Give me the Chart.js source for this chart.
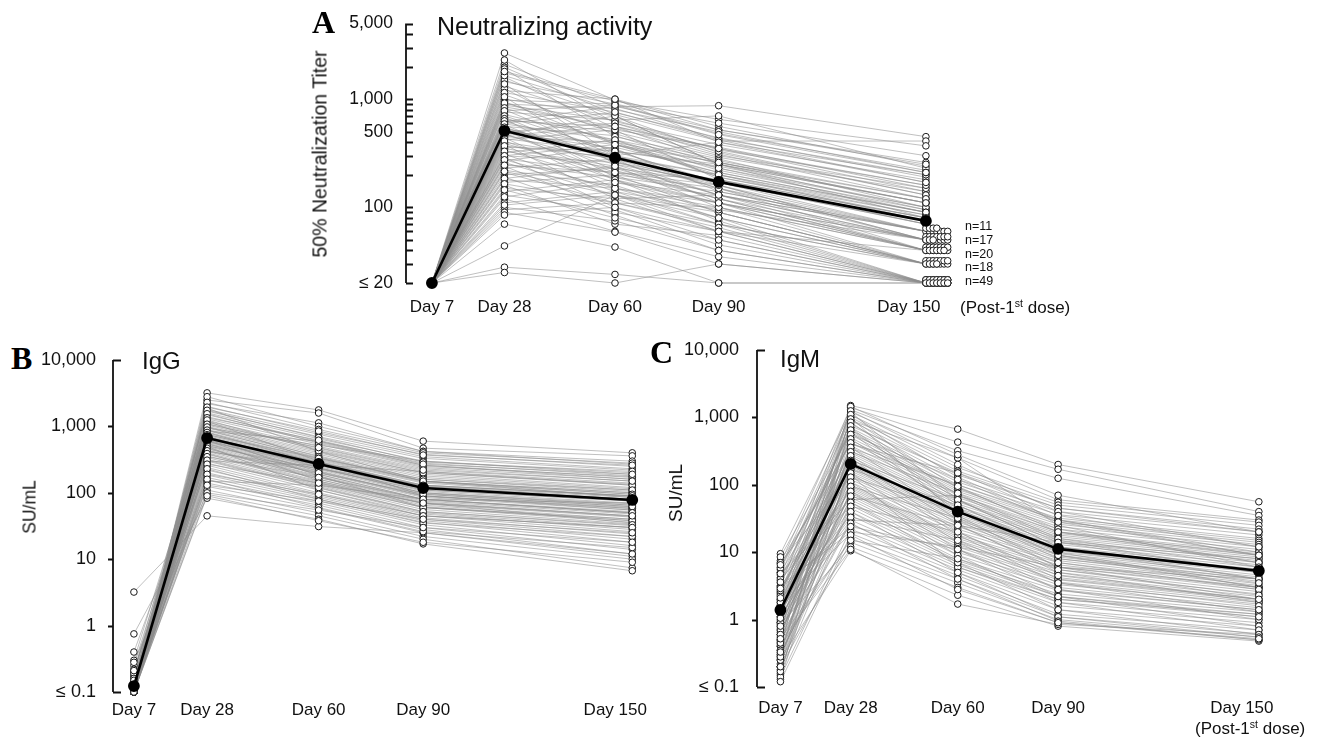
<!DOCTYPE html>
<html>
<head>
<meta charset="utf-8">
<script src="https://cdn.jsdelivr.net/npm/chart.js@4.4.1/dist/chart.umd.min.js"></script>
<style>
  body { margin: 0; background: #fff; }
  #wrap { position: relative; width: 1319px; height: 742px; overflow: hidden; }
  canvas { position: absolute; }
  .txt { position: absolute; font-family: 'Liberation Sans', Arial, sans-serif; color: #111; line-height: 1; white-space: nowrap; }
  .letter { position: absolute; font-family: 'Liberation Serif', 'Times New Roman', serif; font-weight: bold; font-size: 32px; line-height: 1; color: #000; }
  .ytitle { position: absolute; font-family: 'Liberation Sans', Arial, sans-serif; color: #111; white-space: nowrap; transform: translate(-50%, -50%) rotate(-90deg); }
  sup { font-size: 0.62em; vertical-align: 0.55em; line-height: 0; }
</style>
</head>
<body>
<div id="wrap">
  <canvas id="chartA" width="660" height="330" style="left:330px;top:0px"></canvas>
  <canvas id="chartB" width="650" height="400" style="left:40px;top:330px"></canvas>
  <canvas id="chartC" width="649" height="410" style="left:670px;top:320px"></canvas>

  <div class="letter" style="left:312px;top:6px">A</div>
  <div class="letter" style="left:11px;top:342px">B</div>
  <div class="letter" style="left:650px;top:336px">C</div>

  <div class="txt" style="left:437px;top:14px;font-size:25px">Neutralizing activity</div>
  <div class="txt" style="left:142px;top:349px;font-size:24px">IgG</div>
  <div class="txt" style="left:780px;top:347px;font-size:24px">IgM</div>

  <div class="ytitle" style="left:320px;top:154px;font-size:19.5px">50% Neutralization Titer</div>
  <div class="ytitle" style="left:30px;top:507px;font-size:17.5px">SU/mL</div>
  <div class="ytitle" style="left:676px;top:493px;font-size:19px">SU/mL</div>

  <div class="txt" style="left:960px;top:299px;font-size:17px">(Post-1<sup>st</sup> dose)</div>
  <div class="txt" style="left:1195px;top:720px;font-size:17px">(Post-1<sup>st</sup> dose)</div>

  <div class="txt" id="nLabels" style="left:965px;top:220px;font-size:12.5px;line-height:13.75px"></div>
</div>

<script>
    // ==========================================
    // DADOS
    // ==========================================
    const days = [7, 28, 60, 90, 150];
    const dayLabels = ['Day 7', 'Day 28', 'Day 60', 'Day 90', 'Day 150\u2003\u2003'];

    // Painel A - titulo de neutralizacao (Day 7 = ≤20 para todos)
    const neutDay7 = 20;
    const neutSubjects = [ // [Day 28, Day 60, Day 90, Day 150]
        [2670, 980, 520, 260], [2100, 850, 870, 450], [1970, 720, 410, 410], [1750, 960, 650, 370],
        [1600, 540, 300, 150], [1450, 900, 480, 220], [1320, 620, 380, 180], [1200, 1000, 560, 240],
        [1100, 480, 250, 110], [1000, 700, 320, 130], [950, 380, 210, 90], [900, 820, 430, 200],
        [850, 560, 260, 120], [800, 300, 150, 60], [760, 640, 340, 160], [720, 420, 220, 95],
        [680, 260, 180, 70], [650, 500, 290, 140], [620, 340, 160, 50], [600, 750, 440, 190],
        [580, 220, 120, 40], [560, 460, 230, 100], [540, 300, 200, 85], [520, 180, 90, 30],
        [500, 600, 310, 120], [490, 350, 140, 60], [470, 250, 170, 75], [450, 400, 260, 110],
        [440, 150, 80, 20], [420, 520, 180, 80], [400, 280, 110, 50], [390, 200, 150, 40],
        [380, 120, 60, 20], [360, 330, 240, 100], [350, 240, 100, 30], [340, 170, 130, 60],
        [320, 420, 190, 80], [310, 140, 70, 20], [300, 260, 160, 50], [290, 100, 50, 20],
        [280, 210, 120, 40], [270, 360, 210, 90], [260, 130, 90, 30], [250, 190, 140, 60],
        [240, 95, 45, 20], [230, 280, 150, 50], [220, 160, 80, 30], [210, 110, 100, 40],
        [200, 230, 170, 70], [190, 85, 40, 20], [180, 150, 110, 50], [170, 200, 90, 30],
        [160, 70, 55, 20], [150, 120, 130, 60], [140, 180, 75, 20], [130, 90, 60, 40],
        [120, 60, 35, 20], [110, 140, 95, 50], [100, 75, 40, 20], [95, 110, 70, 30],
        [90, 59, 30, 20], [70, 43, 20, 20], [44, 130, 60, 30], [28, 24, 20, 20],
        [25, 20, 30, 20], [1500, 700, 250, 95], [1250, 380, 200, 75], [980, 900, 600, 300],
        [880, 640, 700, 230], [620, 860, 520, 250], [530, 300, 400, 200], [470, 700, 250, 80],
        [2300, 600, 350, 140], [1900, 450, 280, 100], [1650, 800, 500, 210], [1380, 300, 170, 60],
        [1150, 760, 420, 170], [1050, 250, 130, 50], [920, 520, 360, 150], [830, 400, 190, 85],
        [780, 880, 470, 210], [700, 330, 250, 110], [660, 190, 110, 40], [630, 560, 330, 130],
        [590, 420, 270, 120], [550, 270, 130, 40], [510, 380, 230, 90], [480, 210, 160, 60],
        [460, 560, 350, 160], [430, 330, 170, 70], [410, 180, 110, 30], [370, 290, 200, 90],
        [330, 230, 120, 50], [300, 380, 260, 110], [275, 150, 100, 40], [245, 210, 180, 80],
        [215, 130, 70, 30], [185, 240, 130, 50], [165, 110, 65, 20], [145, 80, 50, 20],
        [125, 170, 110, 40], [105, 130, 80, 30], [85, 100, 60, 20], [1800, 1000, 400, 170]
    ];
    const neutGmt = [20, 510, 288, 172, 75];
    const neutTicks = [20, 100, 500, 1000, 5000];
    const neutTickLabels = ['≤ 20', '100', '500', '1,000', '5,000'];
    const neutMinorTicks = [30, 40, 50, 60, 70, 80, 90, 200, 300, 400, 600, 700, 800, 900, 2000, 3000, 4000];
    const lodGroupValues = [60, 50, 40, 30, 20];
    const lodGroupCounts = [11, 17, 20, 18, 49];

    // Painel B - IgG  [Day 7, Day 28, Day 60, Day 90, Day 150]
    const iggSubjects = [
        [0.1, 3200, 1770, 600, 400], [0.12, 2500, 1590, 470, 360], [0.1, 2200, 1130, 420, 270],
        [0.15, 2000, 800, 380, 250], [0.1, 1800, 760, 350, 230], [0.2, 1700, 700, 330, 220],
        [0.1, 1600, 650, 300, 200], [0.13, 1500, 600, 280, 180], [0.1, 1400, 580, 260, 170],
        [0.18, 1300, 540, 240, 160], [0.1, 1200, 500, 230, 150], [0.11, 1150, 470, 210, 140],
        [0.3, 1100, 450, 200, 135], [0.1, 1050, 420, 190, 120], [0.14, 1000, 400, 180, 115],
        [0.1, 950, 380, 170, 110], [0.12, 900, 360, 160, 105], [0.1, 860, 340, 150, 100],
        [0.25, 820, 320, 145, 95], [0.1, 790, 310, 140, 90], [0.1, 760, 300, 130, 88],
        [0.16, 730, 290, 125, 85], [0.1, 700, 280, 120, 80], [0.12, 680, 270, 115, 78],
        [0.1, 660, 260, 110, 75], [0.1, 640, 250, 105, 70], [0.2, 620, 240, 100, 68],
        [0.1, 600, 235, 98, 65], [0.13, 580, 225, 95, 62], [0.1, 560, 215, 90, 60],
        [0.1, 540, 205, 88, 58], [0.15, 520, 200, 85, 55], [0.1, 500, 190, 80, 52],
        [0.11, 480, 180, 78, 50], [0.1, 460, 175, 75, 48], [0.4, 440, 170, 72, 45],
        [0.1, 420, 160, 68, 43], [0.12, 400, 150, 65, 40], [0.1, 380, 145, 62, 38],
        [0.1, 360, 140, 60, 36], [0.17, 340, 130, 56, 34], [0.1, 320, 125, 52, 32],
        [0.13, 300, 118, 50, 30], [0.1, 280, 110, 48, 28], [0.1, 260, 100, 45, 26],
        [0.22, 240, 95, 42, 24], [0.1, 220, 90, 40, 22], [0.12, 200, 85, 38, 20],
        [0.1, 185, 80, 36, 18], [0.1, 170, 75, 33, 16], [0.15, 155, 70, 30, 14],
        [0.1, 140, 65, 28, 12], [0.11, 125, 58, 25, 11], [0.1, 110, 50, 22, 10],
        [0.1, 95, 45, 20, 7.4], [0.75, 83, 40, 17, 6.7], [3.2, 45, 31, 25, 12],
        [0.1, 1900, 420, 150, 85], [0.1, 850, 600, 260, 160], [0.14, 700, 180, 60, 40],
        [0.1, 1200, 300, 90, 55], [0.12, 300, 260, 210, 130], [0.1, 500, 110, 45, 30],
        [0.19, 950, 520, 300, 190], [0.1, 420, 230, 130, 90], [0.1, 150, 130, 80, 70],
        [0.13, 620, 150, 70, 35],
        [0.1, 2800, 1000, 420, 300], [0.11, 2300, 900, 400, 280], [0.1, 1950, 850, 370, 260],
        [0.14, 1750, 680, 290, 210], [0.1, 1550, 560, 250, 175], [0.12, 1350, 620, 270, 190],
        [0.1, 1250, 430, 200, 130], [0.16, 1080, 480, 220, 150], [0.1, 980, 350, 150, 100],
        [0.1, 880, 330, 160, 110], [0.13, 810, 280, 125, 80], [0.1, 750, 330, 150, 95],
        [0.12, 710, 240, 100, 65], [0.1, 670, 290, 130, 90], [0.1, 630, 210, 90, 58],
        [0.21, 590, 260, 120, 80], [0.1, 550, 190, 80, 50], [0.1, 510, 230, 110, 75],
        [0.12, 470, 160, 70, 44], [0.1, 430, 200, 95, 62], [0.1, 390, 135, 60, 38],
        [0.15, 350, 170, 80, 50], [0.1, 310, 120, 52, 33], [0.1, 270, 140, 70, 45],
        [0.13, 230, 80, 35, 22], [0.1, 190, 95, 45, 30], [0.1, 160, 60, 26, 15],
        [0.12, 130, 75, 40, 25], [0.28, 100, 55, 30, 18], [0.1, 90, 38, 18, 9]
    ];
    const iggGmt = [0.123, 668, 272, 118, 78];

    // Painel C - IgM  [Day 7, Day 28, Day 60, Day 90, Day 150]
    const igmSubjects = [
        [0.4, 1500, 670, 200, 56], [6.8, 1400, 430, 170, 40], [1.2, 1300, 320, 125, 35],
        [9.5, 1200, 250, 60, 30], [0.2, 1100, 180, 55, 28], [4.6, 1000, 160, 50, 25],
        [2.0, 900, 140, 45, 22], [0.15, 800, 120, 40, 20], [3.5, 700, 110, 36, 18],
        [0.7, 650, 100, 32, 16], [5.5, 600, 90, 30, 15], [1.8, 550, 85, 28, 14],
        [0.3, 500, 80, 26, 13], [2.4, 460, 75, 24, 12], [6.0, 420, 70, 22, 11],
        [0.9, 380, 65, 20, 10], [1.4, 350, 60, 19, 9.5], [0.5, 320, 56, 18, 9],
        [7.5, 300, 52, 17, 8.5], [1.1, 280, 48, 16, 8], [0.25, 260, 45, 15, 7.5],
        [2.6, 240, 42, 14, 7], [0.13, 220, 40, 13, 6.5], [1.6, 200, 38, 12, 6],
        [4.2, 190, 36, 11, 5.6], [0.35, 180, 34, 10.5, 5.2], [1.0, 170, 32, 10, 5],
        [0.6, 160, 30, 9.5, 4.6], [2.2, 150, 28, 9, 4.3], [3.0, 140, 26, 8.5, 4],
        [0.45, 130, 24, 8, 3.7], [1.3, 120, 22, 7.5, 3.4], [0.18, 110, 20, 7, 3.2],
        [2.8, 100, 18, 6.5, 3], [0.8, 95, 17, 6, 2.8], [1.5, 90, 16, 5.5, 2.6],
        [0.22, 85, 15, 5, 2.4], [3.8, 80, 14, 4.6, 2.2], [0.65, 75, 13, 4.2, 2],
        [1.9, 70, 12, 3.9, 1.9], [0.28, 65, 11, 3.6, 1.8], [5.0, 60, 10, 3.3, 1.7],
        [0.95, 55, 9, 3, 1.5], [0.16, 50, 8, 2.7, 1.4], [1.35, 45, 7.5, 2.4, 1.3],
        [0.55, 40, 7, 2.2, 1.2], [2.0, 35, 6.5, 2, 1.1], [0.32, 30, 6, 1.8, 1],
        [0.75, 26, 5.5, 1.6, 0.9], [0.14, 22, 5, 1.4, 0.8], [1.7, 19, 4.5, 1.2, 0.7],
        [0.4, 16, 4, 1.1, 0.62], [0.2, 14, 3.5, 1, 0.55], [0.85, 12, 3, 0.9, 0.5],
        [0.26, 10.5, 2.3, 0.8, 0.48], [0.48, 11, 1.7, 0.85, 0.6], [8.5, 600, 40, 8, 4],
        [0.42, 1000, 35, 6, 3], [2.5, 1200, 60, 12, 5], [0.6, 400, 150, 45, 20],
        [1.2, 30, 25, 14, 8], [3.2, 20, 12, 6, 4], [0.3, 700, 50, 10, 3],
        [5.0, 250, 20, 4, 2], [0.2, 350, 100, 30, 10], [7.0, 140, 6, 2, 1.2],
        [1.6, 900, 250, 25, 6], [0.9, 60, 70, 20, 9],
        [3.1, 1450, 280, 70, 20], [0.5, 1250, 200, 40, 12], [5.8, 1100, 130, 30, 9],
        [1.1, 950, 90, 22, 7], [0.25, 850, 70, 15, 5], [2.3, 750, 150, 35, 12],
        [4.0, 650, 60, 12, 4], [0.7, 560, 120, 28, 9], [1.5, 480, 45, 9, 3],
        [6.5, 420, 95, 20, 7], [0.35, 360, 30, 6, 2], [2.7, 310, 75, 16, 6],
        [0.9, 270, 26, 5, 1.8], [1.8, 230, 60, 14, 5], [0.17, 200, 18, 3.5, 1.3],
        [3.6, 170, 50, 11, 4], [0.6, 150, 14, 2.8, 1], [1.25, 130, 40, 9, 3.5],
        [0.28, 110, 11, 2.2, 0.8], [2.1, 95, 32, 7, 2.8], [0.45, 80, 9, 1.8, 0.7],
        [1.05, 68, 25, 5.5, 2.3], [0.2, 55, 7, 1.4, 0.6], [4.8, 48, 20, 4.5, 2],
        [0.8, 40, 5, 1.1, 0.55], [1.4, 33, 15, 3.5, 1.6], [0.33, 27, 4, 0.95, 0.5],
        [2.9, 24, 11, 2.8, 1.4], [0.12, 18, 2.8, 0.9, 0.52], [0.52, 15, 8, 2.2, 1.1]
    ];
    const igmGmt = [1.39, 204, 40, 11.2, 5.3];

    const suTicks = [0.1, 1, 10, 100, 1000, 10000];
    const suTickLabels = ['≤ 0.1', '1', '10', '100', '1,000', '10,000'];

    // ==========================================

    const FONT = "'Liberation Sans', Arial, sans-serif";

    // eixo Y em forma de colchete (desenhado com a escala do Chart.js)
    const bracketAxis = {
        id: 'bracketAxis',
        beforeDatasetsDraw(chart, args, opts) {
            const { ctx, chartArea } = chart;
            const y = chart.scales.y;
            const x0 = chartArea.left;
            ctx.save();
            ctx.strokeStyle = '#111';
            ctx.lineWidth = 1.8;
            ctx.beginPath();
            ctx.moveTo(x0, y.getPixelForValue(y.max));
            ctx.lineTo(x0, y.getPixelForValue(y.min));
            if (opts.inward) {
                opts.major.concat(opts.minor).forEach(v => {
                    const py = Math.round(y.getPixelForValue(v)) + 0.5;
                    ctx.moveTo(x0, py); ctx.lineTo(x0 + 7, py);
                });
            } else {
                opts.major.forEach((v, i) => {
                    const py = Math.round(y.getPixelForValue(v)) + 0.5;
                    const end = i === 0 || i === opts.major.length - 1;
                    ctx.moveTo(x0, py); ctx.lineTo(end ? x0 + 8 : x0 - 5, py);
                });
            }
            ctx.stroke();
            ctx.restore();
        }
    };

    function buildPanel(canvasId, p) {
        const datasets = [];

        // linhas individuais (cinza)
        p.subjects.forEach(row => {
            datasets.push({
                data: row.map((v, i) => ({ x: days[i], y: v })),
                borderColor: 'rgba(140,140,140,0.55)',
                borderWidth: 1,
                pointRadius: 0,
                order: 3,
                clip: false
            });
        });

        // circulos abertos
        const circles = [];
        p.subjects.forEach(row => row.forEach((v, i) => {
            if (p.skipCircle && p.skipCircle(i, v)) return;
            circles.push({ x: days[i], y: v });
        }));
        if (p.extraCircles) circles.push(...p.extraCircles);
        datasets.push({
            data: circles,
            showLine: false,
            pointRadius: 3.3,
            pointBackgroundColor: '#fff',
            pointBorderColor: '#1a1a1a',
            pointBorderWidth: 1,
            order: 2,
            clip: false
        });

        // media geometrica (linha preta)
        datasets.push({
            data: p.gmt.map((v, i) => ({ x: days[i], y: v })),
            borderColor: '#000',
            borderWidth: 2.6,
            pointRadius: 4.6,
            pointBackgroundColor: '#000',
            pointBorderColor: '#000',
            order: 1,
            clip: false
        });

        return new Chart(document.getElementById(canvasId), {
            type: 'line',
            data: { datasets },
            plugins: [bracketAxis],
            options: {
                responsive: false,
                animation: false,
                devicePixelRatio: 1,
                events: [],
                layout: { padding: p.padding },
                plugins: {
                    legend: { display: false },
                    tooltip: { enabled: false },
                    bracketAxis: { major: p.yTicks, minor: p.yMinor || [], inward: p.inward }
                },
                scales: {
                    x: {
                        type: 'linear',
                        min: p.xMin,
                        max: p.xMax,
                        afterBuildTicks: s => { s.ticks = days.map(d => ({ value: d })); },
                        afterFit: s => { s.height = p.xHeight; },
                        grid: { display: false, drawTicks: false },
                        border: { display: false },
                        ticks: {
                            autoSkip: false,
                            maxRotation: 0,
                            padding: p.xPad,
                            color: '#111',
                            font: { family: FONT, size: 17 },
                            callback: (v, i) => dayLabels[i]
                        }
                    },
                    y: {
                        type: 'logarithmic',
                        min: p.yTicks[0],
                        max: p.yTicks[p.yTicks.length - 1],
                        afterBuildTicks: s => { s.ticks = p.yTicks.map(v => ({ value: v })); },
                        afterFit: s => { s.width = p.yWidth; },
                        grid: { display: false, drawTicks: false },
                        border: { display: false },
                        ticks: {
                            autoSkip: false,
                            padding: p.yPad,
                            color: '#111',
                            font: { family: FONT, size: p.yFont },
                            callback: (v, i) => p.yLabels[i]
                        }
                    }
                }
            }
        });
    }

    // circulos agrupados no limite de deteccao (Day 150, painel A)
    const lodCircles = [];
    lodGroupValues.forEach((val, g) => {
        for (let k = 0; k < lodGroupCounts[g]; k++) {
            const sub = Math.floor(k / 7) % 2;
            lodCircles.push({ x: 150 + (k % 7) * 1.05, y: val * (sub ? 1.07 : 1) });
        }
    });
    document.getElementById('nLabels').innerHTML =
        lodGroupCounts.map(n => 'n=' + n).join('<br>');

    buildPanel('chartA', {
        subjects: neutSubjects.map(r => [neutDay7].concat(r)),
        gmt: neutGmt,
        skipCircle: (i, v) => i === 0 || (i === 4 && lodGroupValues.includes(v)),
        extraCircles: lodCircles,
        yTicks: neutTicks, yLabels: neutTickLabels, yMinor: neutMinorTicks, inward: true,
        xMin: -0.5, xMax: 160,
        padding: { left: 0, top: 23, right: 23, bottom: 7 },
        xHeight: 40, xPad: 14, yWidth: 76, yPad: 13, yFont: 17.5
    });

    buildPanel('chartB', {
        subjects: iggSubjects,
        gmt: iggGmt,
        yTicks: suTicks, yLabels: suTickLabels, inward: false,
        xMin: 1, xMax: 160,
        padding: { left: 0, top: 30, right: 17, bottom: 8 },
        xHeight: 30, xPad: 8, yWidth: 73, yPad: 17, yFont: 18
    });

    buildPanel('chartC', {
        subjects: igmSubjects,
        gmt: igmGmt,
        yTicks: suTicks, yLabels: suTickLabels, inward: false,
        xMin: 0, xMax: 155,
        padding: { left: 0, top: 30, right: 15.4, bottom: 13 },
        xHeight: 30, xPad: 11, yWidth: 87, yPad: 18, yFont: 18
    });
</script>
</body>
</html>
